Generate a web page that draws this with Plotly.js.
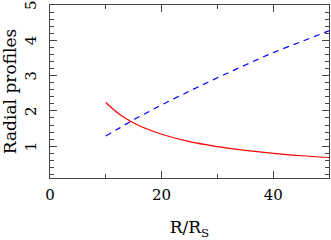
<!DOCTYPE html>
<html><head><meta charset="utf-8">
<script src="https://cdn.plot.ly/plotly-3.0.1.min.js"></script>
<style>html,body{margin:0;padding:0;background:#fff}#plot{width:331px;height:240px}</style>
</head><body><div id="plot"></div>
<script>
const radius = [10, 12.5, 15, 17.5, 20, 25, 30, 35, 40, 45, 50];
const redProfile = [2.24, 1.90, 1.66, 1.48, 1.34, 1.13, 0.99, 0.88, 0.80, 0.73, 0.68];
const blueProfile = [1.29, 1.52, 1.75, 1.96, 2.17, 2.56, 2.94, 3.30, 3.65, 3.96, 4.27];
const xTickVals = [0, 20, 40];
const yTickVals = [1, 2, 3, 4, 5];

const family = '"DejaVu Serif", "Liberation Serif", serif';
const tickFont = {family: family, size: 15, color: '#000'};
const titleFont = {family: family, size: 17, color: '#000'};
const axisCommon = {
  showline: true, linecolor: '#444', linewidth: 1, mirror: 'allticks',
  ticks: 'inside', ticklen: 7, tickwidth: 1, tickcolor: '#444',
  showgrid: false, zeroline: false, tickfont: tickFont
};
const data = [
  {x: radius, y: redProfile, mode: 'lines', line: {color: '#ff0000', width: 1.2, shape: 'spline'}},
  {x: radius, y: blueProfile, mode: 'lines', line: {color: '#0000ff', width: 1.2, dash: '6px,5px', shape: 'spline'}}
];
const yLabels = yTickVals.map(v => ({
  xref: 'paper', yref: 'y', x: -0.068, y: v, text: String(v), showarrow: false,
  textangle: -90, xanchor: 'center', yanchor: 'middle', font: tickFont
}));
const layout = {
  width: 331, height: 240,
  margin: {l: 50, r: 2, t: 5, b: 62},
  paper_bgcolor: '#fff', plot_bgcolor: '#fff',
  showlegend: false, font: tickFont,
  annotations: yLabels,
  xaxis: Object.assign({}, axisCommon, {
    range: [0, 50], tickvals: xTickVals, ticktext: xTickVals.map(String),
    minor: {dtick: 10, tick0: 0, ticklen: 4, ticks: 'inside', tickcolor: '#444'},
    ticklabelstandoff: 3,
    title: {text: 'R/R<sub>S</sub>', font: titleFont, standoff: 21}
  }),
  yaxis: Object.assign({}, axisCommon, {
    range: [0.1, 5], tickvals: yTickVals, showticklabels: false,
    minor: {dtick: 0.2, tick0: 0, ticklen: 4, ticks: 'inside', tickcolor: '#444'},
    title: {text: 'Radial profiles', font: titleFont, standoff: 29}
  })
};
Plotly.newPlot('plot', data, layout, {staticPlot: true, displayModeBar: false});
</script></body></html>
